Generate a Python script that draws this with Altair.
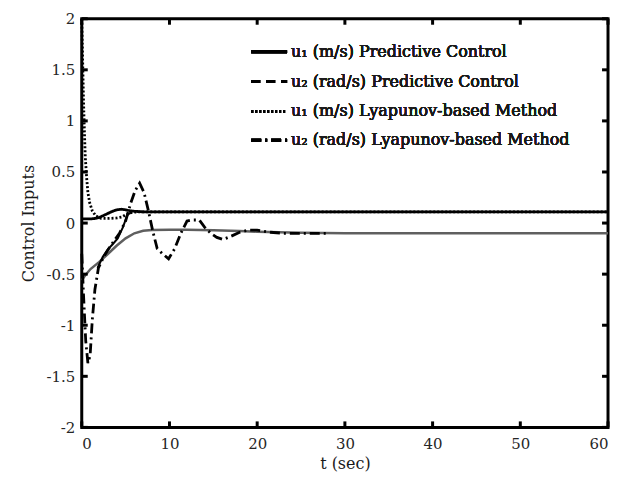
import altair as alt
import pandas as pd

# ---- data ----
u1_pc_t = [0, 1, 1.5, 2, 2.5, 3, 3.5, 4, 4.5, 5, 5.5, 6, 7, 8, 10, 60]
u1_pc_v = [0.04, 0.04, 0.045, 0.055, 0.075, 0.095, 0.115, 0.13, 0.135, 0.13, 0.12, 0.115, 0.11, 0.11, 0.11, 0.11]

u1_lb_t = [0, 0.1, 0.2, 0.3, 0.4, 0.55, 0.7, 0.9, 1.2, 1.6, 2.2, 3.0, 4.0, 4.6, 5.0, 5.5, 6.0, 7.0, 60]
u1_lb_v = [2.0, 1.6, 1.2, 0.9, 0.65, 0.45, 0.3, 0.2, 0.12, 0.07, 0.045, 0.045, 0.05, 0.06, 0.08, 0.1, 0.108, 0.11, 0.11]

u2_pc_t = [0, 0.5, 1, 2, 3, 4, 5, 6, 7, 8, 10, 12, 15, 18, 20, 25, 30, 60]
u2_pc_v = [-0.56, -0.5, -0.45, -0.38, -0.3, -0.22, -0.15, -0.1, -0.075, -0.068, -0.065, -0.065, -0.07, -0.078, -0.085, -0.095, -0.1, -0.1]

u2_lb_t = [0, 0.2, 0.45, 0.7, 0.95, 1.2, 1.5, 1.9, 2.5, 3.3, 4.3, 5.0, 5.6, 6.1, 6.6, 7.1, 7.6, 8.1, 8.6, 9.2, 9.9,
           10.6, 11.3, 12.0, 12.6, 13.4, 14.0, 14.7, 15.4, 16.1, 17.0, 18.0, 19.0, 20.0, 21.5, 23, 25, 28]
u2_lb_v = [-0.3, -0.7, -1.15, -1.37, -1.3, -0.95, -0.65, -0.44, -0.33, -0.22, -0.1, 0.02, 0.2, 0.32, 0.39, 0.3, 0.12,
           -0.08, -0.25, -0.3, -0.35, -0.25, -0.1, 0.02, 0.03, 0.03, -0.04, -0.1, -0.14, -0.16, -0.13, -0.09, -0.07,
           -0.07, -0.09, -0.1, -0.1, -0.1]

aux_t = [1.8, 2.4, 2.95, 3.5, 4.1, 4.7, 5.2, 5.7]
aux_v = [-0.44, -0.33, -0.26, -0.21, -0.15, -0.04, 0.08, 0.11]

labels = ["u\u2081 (m/s) Predictive Control",
          "u\u2082 (rad/s) Predictive Control",
          "u\u2081 (m/s) Lyapunov-based Method",
          "u\u2082 (rad/s) Lyapunov-based Method"]
dashes = [[1, 0], [9, 6], [2, 2], [10, 4, 2, 4]]

x_ticks = [0, 10, 20, 30, 40, 50, 60]
y_ticks = [-2, -1.5, -1, -0.5, 0, 0.5, 1, 1.5, 2]

W, H = 528, 410
FONT = "DejaVu Serif"
LEG_X0, LEG_X1, LEG_TX = 170, 206, 210
LEG_ROWS = [33, 63, 93, 122]

main_df = pd.concat([
    pd.DataFrame({"t": u1_pc_t, "v": u1_pc_v, "s": labels[0]}),
    pd.DataFrame({"t": u1_lb_t, "v": u1_lb_v, "s": labels[2]}),
    pd.DataFrame({"t": u2_lb_t, "v": u2_lb_v, "s": labels[3]}),
])
gray_df = pd.DataFrame({"t": u2_pc_t, "v": u2_pc_v})
aux_df = pd.DataFrame({"t": aux_t, "v": aux_v})

xs = alt.Scale(domain=[0, 60], nice=False)
ys = alt.Scale(domain=[-2, 2], nice=False)

plain = "'' + datum.value"
xax = alt.Axis(values=x_ticks, title="t (sec)", grid=False, domain=False, ticks=False,
               labelPadding=9, titlePadding=4, labelExpr=plain)
yax = alt.Axis(values=y_ticks, title="Control Inputs", grid=False, domain=False, ticks=False,
               labelPadding=7, titlePadding=9, labelExpr=plain)

gray = alt.Chart(gray_df).mark_line(color="#5f5f5f", strokeWidth=2.5).encode(
    x=alt.X("t:Q", scale=xs, axis=xax), y=alt.Y("v:Q", scale=ys, axis=yax))

aux = alt.Chart(aux_df).mark_line(color="black", strokeWidth=2).encode(x="t:Q", y="v:Q")

lines = alt.Chart(main_df).mark_line(color="black", strokeWidth=2.8).encode(
    x="t:Q", y="v:Q",
    detail="s:N",
    strokeDash=alt.StrokeDash("s:N", scale=alt.Scale(domain=labels, range=dashes), legend=None),
)

xt_df = pd.DataFrame({"t": x_ticks})
yt_df = pd.DataFrame({"v": y_ticks})
tick_b = alt.Chart(xt_df).mark_rule(color="black", strokeWidth=3).encode(
    x="t:Q", y=alt.value(H), y2=alt.value(H - 6))
tick_t = alt.Chart(xt_df).mark_rule(color="black", strokeWidth=3).encode(
    x="t:Q", y=alt.value(0), y2=alt.value(6))
tick_l = alt.Chart(yt_df).mark_rule(color="black", strokeWidth=3).encode(
    y="v:Q", x=alt.value(0), x2=alt.value(6))
tick_r = alt.Chart(yt_df).mark_rule(color="black", strokeWidth=3).encode(
    y="v:Q", x=alt.value(W), x2=alt.value(W - 6))

legend_layers = []
for lab, dash, ry in zip(labels, dashes, LEG_ROWS):
    legend_layers.append(
        alt.Chart(xt_df).mark_rule(color="black", strokeWidth=3, strokeDash=dash).encode(
            x=alt.value(LEG_X0), x2=alt.value(LEG_X1), y=alt.value(ry)))
    legend_layers.append(
        alt.Chart(xt_df).mark_text(align="left", baseline="middle", font=FONT, fontSize=16,
                                   color="#1a1a1a").encode(
            x=alt.value(LEG_TX), y=alt.value(ry), text=alt.value(lab)))

chart = alt.layer(gray, aux, lines, tick_b, tick_t, tick_l, tick_r, *legend_layers).properties(
    width=W, height=H,
    padding={"left": 74, "top": 10, "right": 5, "bottom": 50},
    autosize=alt.AutoSizeParams(type="none"),
).configure_view(stroke="black", strokeWidth=3).configure_axis(
    labelFont=FONT, labelFontSize=15, labelColor="#262626",
    titleFont=FONT, titleFontSize=16, titleColor="#1a1a1a", titleFontWeight="normal",
)

chart.save("out.html", embed_options={"renderer": "svg", "actions": False})
